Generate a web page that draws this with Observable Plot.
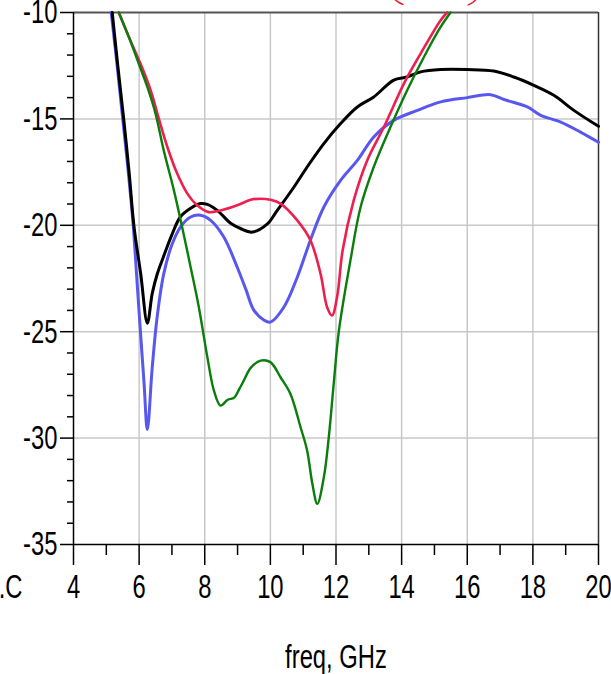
<!DOCTYPE html>
<html>
<head>
<meta charset="utf-8">
<script src="https://cdn.jsdelivr.net/npm/d3@7"></script>
<script src="https://cdn.jsdelivr.net/npm/@observablehq/plot@0.6"></script>
<style>
  html, body { margin: 0; padding: 0; background: white; }
  #chart svg { display: block; }
</style>
</head>
<body>
<div id="chart"></div>
<script>
// Tick values
const xMajor = [4, 6, 8, 10, 12, 14, 16, 18, 20];
const xMinor = [5, 7, 9, 11, 13, 15, 17, 19];
const yMajor = [-10, -15, -20, -25, -30, -35];
const yMinor = [-11,-12,-13,-14,-16,-17,-18,-19,-21,-22,-23,-24,-26,-27,-28,-29,-31,-32,-33,-34];
const xGrid = [6, 8, 10, 12, 14, 16, 18];
const yGrid = [-15, -20, -25, -30];
const xTitle = "freq, GHz";
const cutLabel = ".C";

// Series (freq GHz, dB)
const blackF = [5.18,5.35,5.53,5.70,5.84,6.05,6.25,6.40,6.55,6.70,7.01,7.26,7.57,7.87,8.08,8.38,8.79,9.09,9.45,9.90,10.21,10.72,11.12,11.63,12.14,12.65,13.15,13.76,14.17,14.58,15.19,16.0,16.81,17.42,18.03,18.64,19.25,20.0];
const blackS = [-10,-12.5,-15,-17.6,-20,-22.3,-24.6,-23.2,-22.3,-21.65,-20.4,-19.6,-19.2,-18.98,-19.02,-19.3,-19.9,-20.15,-20.32,-19.95,-19.3,-18.2,-17.26,-16.16,-15.22,-14.44,-13.97,-13.18,-13.03,-12.79,-12.68,-12.68,-12.75,-13.03,-13.42,-13.89,-14.6,-15.35];

const blueF = [5.15,5.33,5.50,5.67,5.82,5.93,6.04,6.15,6.25,6.40,6.55,6.75,7.01,7.26,7.57,7.87,8.18,8.58,8.99,9.25,9.50,9.80,10.0,10.41,10.82,11.22,11.63,12.14,12.65,13.15,13.76,14.48,15.19,16.0,16.71,17.12,17.83,18.24,18.85,19.45,20.0];
const blueS = [-10,-12.5,-15,-17.5,-20,-22.5,-25,-27.4,-29.6,-26.67,-24.3,-22.28,-20.87,-20.08,-19.61,-19.53,-19.77,-20.55,-21.97,-23.0,-24.0,-24.45,-24.55,-23.85,-22.44,-20.7,-19.14,-17.89,-16.95,-15.85,-15.07,-14.6,-14.2,-14.0,-13.86,-14.09,-14.44,-14.83,-15.15,-15.62,-16.1];

const redF = [5.38,5.70,6.04,6.35,6.60,6.86,7.16,7.47,7.77,8.12,8.48,8.99,9.40,9.70,10.0,10.31,10.82,11.22,11.53,11.73,11.88,12.04,12.20,12.54,12.95,13.46,14.07,14.58,15.19,15.39];
const redS = [-10,-11.2,-12.4,-13.65,-14.99,-16.32,-17.57,-18.51,-19.06,-19.38,-19.3,-19.06,-18.8,-18.75,-18.8,-18.98,-19.77,-20.7,-22.28,-23.85,-24.24,-23.3,-21.2,-18.83,-16.95,-15.38,-13.34,-11.93,-10.36,-10];

const greenF = [5.38,5.70,5.94,6.25,6.50,6.75,7.06,7.31,7.57,7.82,8.08,8.28,8.48,8.70,8.90,9.05,9.19,9.40,9.70,10.0,10.31,10.61,10.92,11.12,11.28,11.43,11.63,11.78,11.93,12.09,12.44,12.75,13.15,13.66,14.17,14.68,15.19,15.49];
const greenS = [-10,-11.2,-12.2,-13.5,-14.75,-16.48,-18.36,-20.08,-21.97,-23.85,-26.2,-27.77,-28.47,-28.2,-28.1,-27.7,-27.3,-26.7,-26.36,-26.43,-27.14,-27.92,-29.49,-30.58,-32.15,-33.09,-31.84,-29.96,-27.45,-24.94,-21.65,-19.14,-17.26,-15.38,-13.65,-12.09,-10.68,-10];

// Red annotation ellipse fragments above the frame
const arcLeftF = [13.80, 13.92, 14.04];
const arcLeftS = [-9.40, -9.53, -9.62];
const arcRightF = [16.03, 16.16, 16.26];
const arcRightS = [-9.64, -9.54, -9.40];

const zip = (F, S) => F.map((f, i) => ({f, s: S[i]}));

const FONT = "'Liberation Sans', Arial, sans-serif";
const FS = 34;

const chart = Plot.plot({
  width: 611,
  height: 674,
  marginLeft: 73,
  marginRight: 13,
  marginTop: 12,
  marginBottom: 130,
  style: {fontFamily: FONT, fontSize: FS + "px", background: "white", color: "black", overflow: "visible"},
  x: {domain: [4, 20], label: null},
  y: {domain: [-35, -10], label: null},
  marks: [
    Plot.gridX(xGrid, {stroke: "#c8c8c8", strokeOpacity: 1, strokeWidth: 1.5}),
    Plot.gridY(yGrid, {stroke: "#c8c8c8", strokeOpacity: 1, strokeWidth: 1.5}),
    Plot.ruleY([-10], {stroke: "#555", strokeWidth: 2}),
    Plot.ruleX([20], {stroke: "#333", strokeWidth: 1.5}),
    Plot.ruleX([4], {stroke: "black", strokeWidth: 1.5}),
    Plot.ruleY([-35], {stroke: "black", strokeWidth: 1.5}),
    Plot.axisX({ticks: xMajor, tickSize: 21, tickFormat: () => "", stroke: "black", strokeWidth: 1.5, label: null}),
    Plot.axisX({ticks: xMinor, tickSize: 11, tickFormat: () => "", stroke: "black", strokeWidth: 1.5, label: null}),
    Plot.axisY({ticks: yMajor, tickSize: 13, tickFormat: () => "", stroke: "black", strokeWidth: 1.5, label: null}),
    Plot.axisY({ticks: yMinor, tickSize: 6, tickFormat: () => "", stroke: "black", strokeWidth: 1.5, label: null}),
    Plot.text(xMajor, {x: d => d, text: d => String(d), frameAnchor: "bottom", dy: 43, lineAnchor: "middle", fill: "black", fontSize: FS}),
    Plot.text(yMajor, {y: d => d, text: d => String(d), frameAnchor: "left", dx: -16, textAnchor: "end", fill: "black", fontSize: FS}),
    Plot.text([xTitle], {text: d => d, frameAnchor: "bottom", dy: 113, lineAnchor: "middle", fill: "black", fontSize: FS}),
    Plot.text([cutLabel], {text: d => d, frameAnchor: "bottom-left", dx: -51, dy: 43, textAnchor: "end", lineAnchor: "middle", fill: "black", fontSize: FS}),
    Plot.line(zip(blueF, blueS), {x: "f", y: "s", stroke: "#5858f0", strokeWidth: 3, curve: "catmull-rom"}),
    Plot.line(zip(blackF, blackS), {x: "f", y: "s", stroke: "black", strokeWidth: 3, curve: "catmull-rom"}),
    Plot.line(zip(redF, redS), {x: "f", y: "s", stroke: "#ee1f4f", strokeWidth: 2.6, curve: "catmull-rom"}),
    Plot.line(zip(greenF, greenS), {x: "f", y: "s", stroke: "#0a7d0a", strokeWidth: 2.4, curve: "catmull-rom"}),
    Plot.line(zip(arcLeftF, arcLeftS), {x: "f", y: "s", stroke: "#ee1f2f", strokeWidth: 1.5, curve: "natural"}),
    Plot.line(zip(arcRightF, arcRightS), {x: "f", y: "s", stroke: "#ee1f2f", strokeWidth: 1.5, curve: "natural"})
  ]
});

// condense the glyphs horizontally, like the narrow font of the original
chart.querySelectorAll("text").forEach(t => {
  const tr = t.getAttribute("transform");
  if (tr) t.setAttribute("transform", tr + " scale(0.7,1)");
});

document.getElementById("chart").appendChild(chart);
</script>
</body>
</html>
